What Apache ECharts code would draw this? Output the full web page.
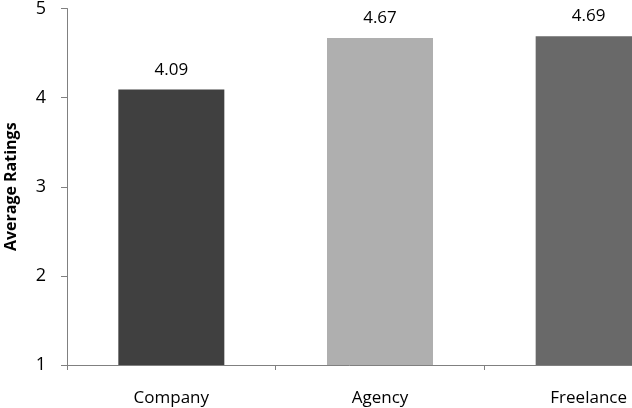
<!DOCTYPE html>
<html>
<head>
<meta charset="utf-8">
<script src="https://cdn.jsdelivr.net/npm/echarts@6/dist/echarts.min.js"></script>
<style>html,body{margin:0;padding:0;background:#fff}#c{width:632px;height:408px}</style>
</head>
<body>
<div id="c"></div>
<script>
const categories = ['Company', 'Agency', 'Freelance'];
const ratings = [4.09, 4.67, 4.69];
const barColors = ['#404040', '#afafaf', '#696969'];
const yTicks = [1, 2, 3, 4, 5];

const chart = echarts.init(document.getElementById('c'), null, {renderer: 'canvas'});
const font = 'Open Sans, Liberation Sans, sans-serif';
chart.setOption({
  animation: false,
  grid: {left: 67, top: 8.5, width: 626, height: 356.5, containLabel: false, outerBoundsMode: 'none'},
  xAxis: {
    type: 'category',
    data: categories,
    axisLine: {lineStyle: {color: '#808080', width: 1}},
    axisTick: {show: true, length: 5, lineStyle: {color: '#808080'}},
    axisLabel: {color: '#000', fontSize: 17, fontFamily: font, margin: 25}
  },
  yAxis: {
    type: 'value',
    min: yTicks[0],
    max: yTicks[yTicks.length - 1],
    interval: 1,
    name: 'Average Ratings',
    nameLocation: 'middle',
    nameGap: 48,
    nameTextStyle: {color: '#000', fontSize: 16, fontWeight: 'bold', fontFamily: font},
    axisLine: {show: true, lineStyle: {color: '#808080', width: 1}},
    axisTick: {show: true, length: 6, lineStyle: {color: '#808080'}},
    axisLabel: {color: '#000', fontSize: 18, fontFamily: font, margin: 21},
    splitLine: {show: false}
  },
  series: [{
    type: 'bar',
    data: ratings.map((v, i) => ({value: v, itemStyle: {color: barColors[i]}})),
    barWidth: 106,
    label: {show: true, position: 'top', distance: 11, color: '#000', fontSize: 17, fontFamily: font,
      formatter: p => p.value.toFixed(2)}
  }]
});
</script>
</body>
</html>
